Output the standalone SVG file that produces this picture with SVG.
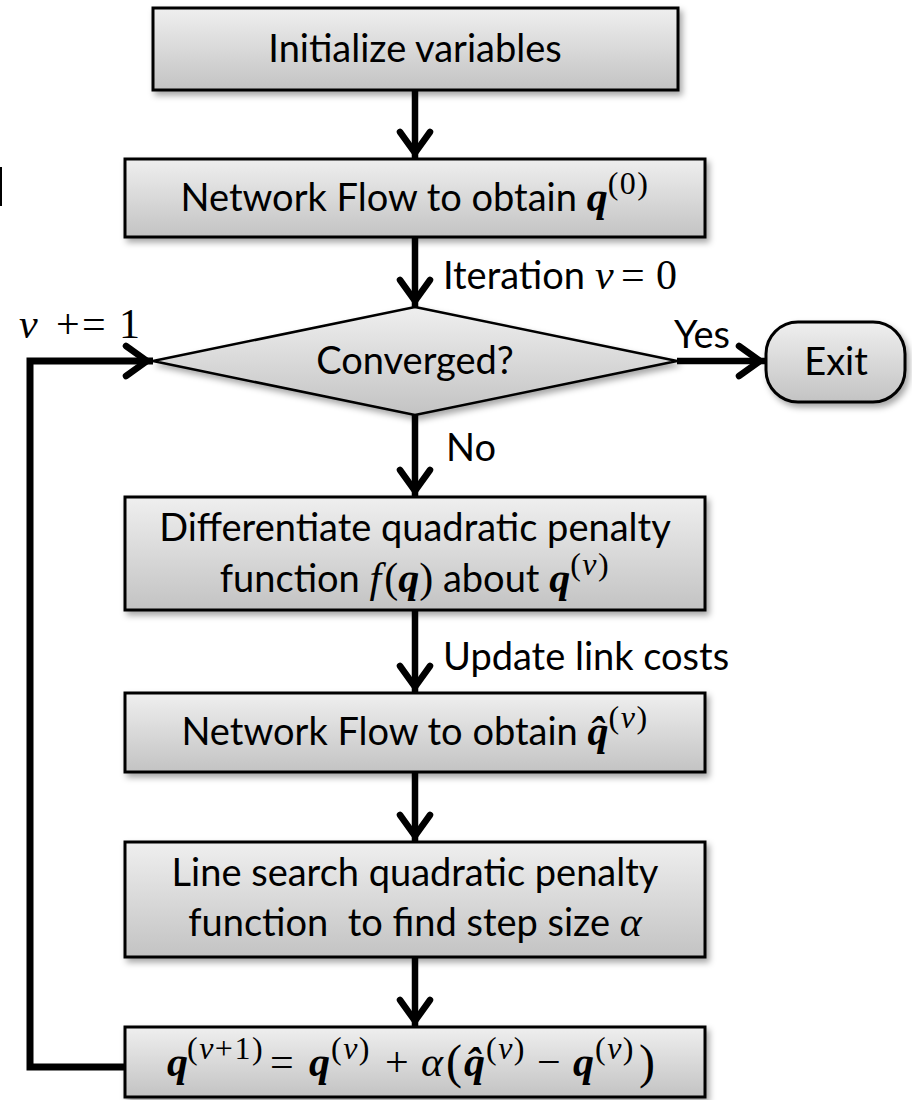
<svg xmlns="http://www.w3.org/2000/svg" width="912" height="1100" viewBox="0 0 912 1100">
<style>
.box{fill:url(#g);stroke:#000;stroke-width:3;filter:url(#sh)}
.dia{fill:url(#g);stroke:#000;stroke-width:2.5;filter:url(#sh)}
.t{font-family:Lato,'Open Sans',sans-serif;font-size:38px;fill:#000}
.m{font-family:'Liberation Serif',serif;font-size:42px}
.qb{font-family:'Liberation Serif',serif;font-style:italic;font-weight:bold}
.it{font-family:'Liberation Serif',serif;font-style:italic}
.up{font-family:'Liberation Serif',serif;font-style:normal;font-weight:normal}
.sup{font-family:'Liberation Serif',serif;font-size:32px;font-style:normal;font-weight:normal;letter-spacing:1.5px}
.con{fill:none;stroke:#000;stroke-width:6.5;marker-end:url(#ah)}
</style>
<defs>
<linearGradient id="g" x1="0" y1="0" x2="0" y2="1">
<stop offset="0" stop-color="#efefef"/>
<stop offset="1" stop-color="#c3c3c3"/>
</linearGradient>
<filter id="sh" x="-10%" y="-10%" width="130%" height="140%">
<feDropShadow dx="3" dy="4" stdDeviation="3" flood-color="#000" flood-opacity="0.35"/>
</filter>
<marker id="ah" markerUnits="userSpaceOnUse" viewBox="-40 -25 50 50" markerWidth="50" markerHeight="50" refX="0" refY="0" orient="auto" overflow="visible">
<path d="M-27,-15 L-6,0 L-27,15" fill="none" stroke="#000" stroke-width="6.5" stroke-linecap="round" stroke-linejoin="miter"/>
</marker>
</defs>
<rect x="0" y="167" width="2" height="39" fill="#000"/>
<g id="connectors">
<path class="con" d="M415,90 L415,159"/>
<path class="con" d="M415,237 L415,307"/>
<path class="con" d="M677,361 L766,361"/>
<path class="con" d="M415,415 L415,497"/>
<path class="con" d="M415,610 L415,693"/>
<path class="con" d="M415,772 L415,842"/>
<path class="con" d="M415,957 L415,1027"/>
<path class="con" d="M125,1067 L30,1067 L30,361 L153,361" style="stroke-width:7"/>
<text class="t" x="443" y="289">Iteration<tspan class="it" font-size="42" x="595">v</tspan><tspan class="up" font-size="42" x="621">=</tspan><tspan class="up" font-size="42" x="656">0</tspan></text>
<text class="t" x="674" y="348">Yes</text>
<text class="t" x="446" y="461">No</text>
<text class="t" x="443" y="670">Update link costs</text>
<text class="m" y="338" font-size="42"><tspan class="it" x="19">v</tspan><tspan x="56">+</tspan><tspan x="82">=</tspan><tspan x="119">1</tspan></text>
</g>
<g id="init">
<rect class="box" x="153" y="8" width="525" height="82"/>
<text class="t" x="415" y="62" text-anchor="middle">Initialize variables</text>
</g>
<g id="nf0">
<rect class="box" x="125" y="159" width="580" height="78"/>
<text class="t" x="415" y="211" text-anchor="middle">Network Flow to obtain <tspan class="qb" font-size="42">q</tspan><tspan class="sup" dy="-17">(0)</tspan></text>
</g>
<g id="converged">
<polygon class="dia" points="415,307 677,361 415,415 153,361"/>
<text class="t" x="415" y="374" text-anchor="middle">Converged?</text>
</g>
<g id="exit">
<rect class="box" x="766" y="322" width="139" height="80" rx="32"/>
<text class="t" x="836" y="375" text-anchor="middle">Exit</text>
</g>
<g id="diff">
<rect class="box" x="125" y="497" width="580" height="113"/>
<text class="t" x="415" y="541" text-anchor="middle">Differentiate quadratic penalty</text>
<text class="t" x="415" y="592" text-anchor="middle">function <tspan class="it" font-size="42">f</tspan><tspan class="up" font-size="42" dx="3">(</tspan><tspan class="qb" font-size="42">q</tspan><tspan class="up" font-size="42">)</tspan> about <tspan class="qb" font-size="42">q</tspan><tspan class="sup" dy="-17">(<tspan class="it">v</tspan>)</tspan></text>
</g>
<g id="nfhat">
<rect class="box" x="125" y="693" width="580" height="79"/>
<text class="t" x="415" y="745" text-anchor="middle">Network Flow to obtain <tspan class="qb" font-size="42">q&#x302;</tspan><tspan class="sup" dy="-17">(<tspan class="it">v</tspan>)</tspan></text>
</g>
<g id="linesearch">
<rect class="box" x="125" y="842" width="580" height="115"/>
<text class="t" x="415" y="886" text-anchor="middle">Line search quadratic penalty</text>
<text class="t" x="415" y="936" text-anchor="middle" xml:space="preserve">function  to find step size <tspan class="it" font-size="42">α</tspan></text>
</g>
<g id="update">
<rect class="box" x="125" y="1027" width="580" height="70"/>
<text class="m" y="1076"><tspan class="qb" x="167">q</tspan><tspan class="sup" x="187" y="1059">(<tspan class="it">v</tspan>+1)</tspan><tspan x="270" y="1076">=</tspan><tspan class="qb" x="309">q</tspan><tspan class="sup" x="331" y="1059">(<tspan class="it">v</tspan>)</tspan><tspan x="385" y="1076">+</tspan><tspan class="it" x="421">α</tspan><tspan font-size="48" x="446" y="1078">(</tspan><tspan class="qb" x="464" y="1076">q&#x302;</tspan><tspan class="sup" x="486" y="1059">(<tspan class="it">v</tspan>)</tspan><tspan x="537" y="1076">−</tspan><tspan class="qb" x="573">q</tspan><tspan class="sup" x="595" y="1059">(<tspan class="it">v</tspan>)</tspan><tspan font-size="48" x="639" y="1078">)</tspan></text>
</g>
</svg>
